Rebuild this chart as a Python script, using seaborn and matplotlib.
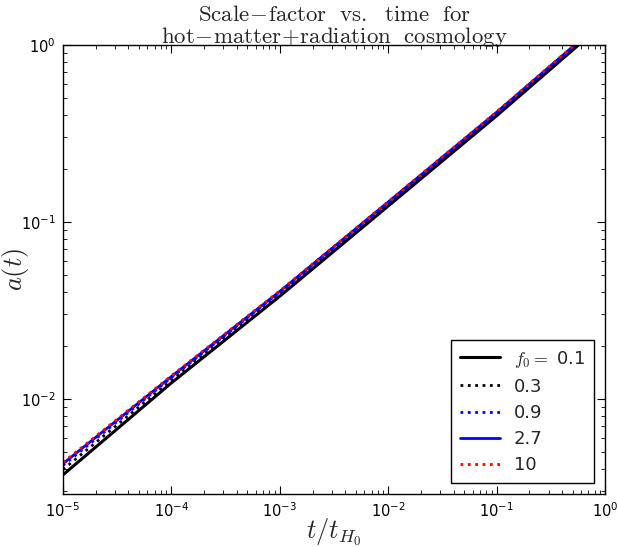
import numpy as np
import pandas as pd
import matplotlib
matplotlib.use('Agg')
import matplotlib.pyplot as plt
import seaborn as sns

# values (a at each time point)
t_vals = [1e-5, 1e-4, 1e-3, 1e-2, 1e-1, 1.0]
f0_labels = ['0.1', '0.3', '0.9', '2.7', '10']
a_f01 = [0.003715, 0.01230, 0.03802, 0.1230, 0.3981, 1.349]
a_f03 = [0.003981, 0.01276, 0.03908, 0.1259, 0.4064, 1.374]
a_f09 = [0.004198, 0.01318, 0.04009, 0.1285, 0.4135, 1.396]
a_f27 = [0.004295, 0.01337, 0.04046, 0.1296, 0.4169, 1.406]
a_f10 = [0.004365, 0.01349, 0.04074, 0.1303, 0.4188, 1.413]

sns.set_style('white')
plt.rcParams.update({
    'mathtext.fontset': 'cm',
    'font.family': ['DejaVu Sans'],
    'xtick.direction': 'in', 'ytick.direction': 'in',
    'xtick.top': True, 'ytick.right': True,
    'xtick.bottom': True, 'ytick.left': True,
    'xtick.major.size': 6, 'ytick.major.size': 6,
    'xtick.minor.size': 3, 'ytick.minor.size': 3,
    'xtick.color': 'black', 'ytick.color': 'black',
    'axes.edgecolor': 'black', 'axes.linewidth': 1.0,
})

series = [a_f01, a_f03, a_f09, a_f27, a_f10]
colors = ['black', 'black', 'blue', 'blue', 'red']
styles = ['-', ':', ':', '-', ':']
widths = [2.2, 2.0, 2.0, 2.0, 2.0]

fig = plt.figure(figsize=(6.17, 5.47), dpi=100)
ax = fig.add_axes([0.102, 0.097, 0.879, 0.821])

for i, (a, lab) in enumerate(zip(series, f0_labels)):
    df = pd.DataFrame({'t': t_vals, 'a': a})
    name = r'$f_0 =$ ' + lab if i == 0 else lab
    sns.lineplot(data=df, x='t', y='a', ax=ax, color=colors[i],
                 linestyle=styles[i], linewidth=widths[i], label=name)

ax.set_xscale('log')
ax.set_yscale('log')
ax.set_xlim(1e-5, 1)
ax.set_ylim(2.9e-3, 1)
ax.tick_params(labelsize=10.5, pad=5)

ax.set_title('$\\mathrm{Scale\\!-\\!factor\\ \\ vs.\\ \\ time\\ \\ for}$\n'
             '$\\mathrm{hot\\!-\\!matter\\!+\\!radiation\\ \\ cosmology}$',
             fontsize=16.5, y=1.0, pad=1, linespacing=0.95)
ax.set_xlabel(r'$t/t_{H_0}$', fontsize=19)
ax.set_ylabel(r'$a(t)$', fontsize=19)
ax.xaxis.set_label_coords(0.5, -0.05)
ax.yaxis.set_label_coords(-0.058, 0.5)

leg = ax.legend(loc='lower right', fontsize=13, fancybox=False, framealpha=1,
                edgecolor='black', handlelength=2.2, borderpad=0.5,
                labelspacing=0.45, borderaxespad=0.6)
leg.get_frame().set_linewidth(1.0)

fig.savefig('out.png', dpi=100)
